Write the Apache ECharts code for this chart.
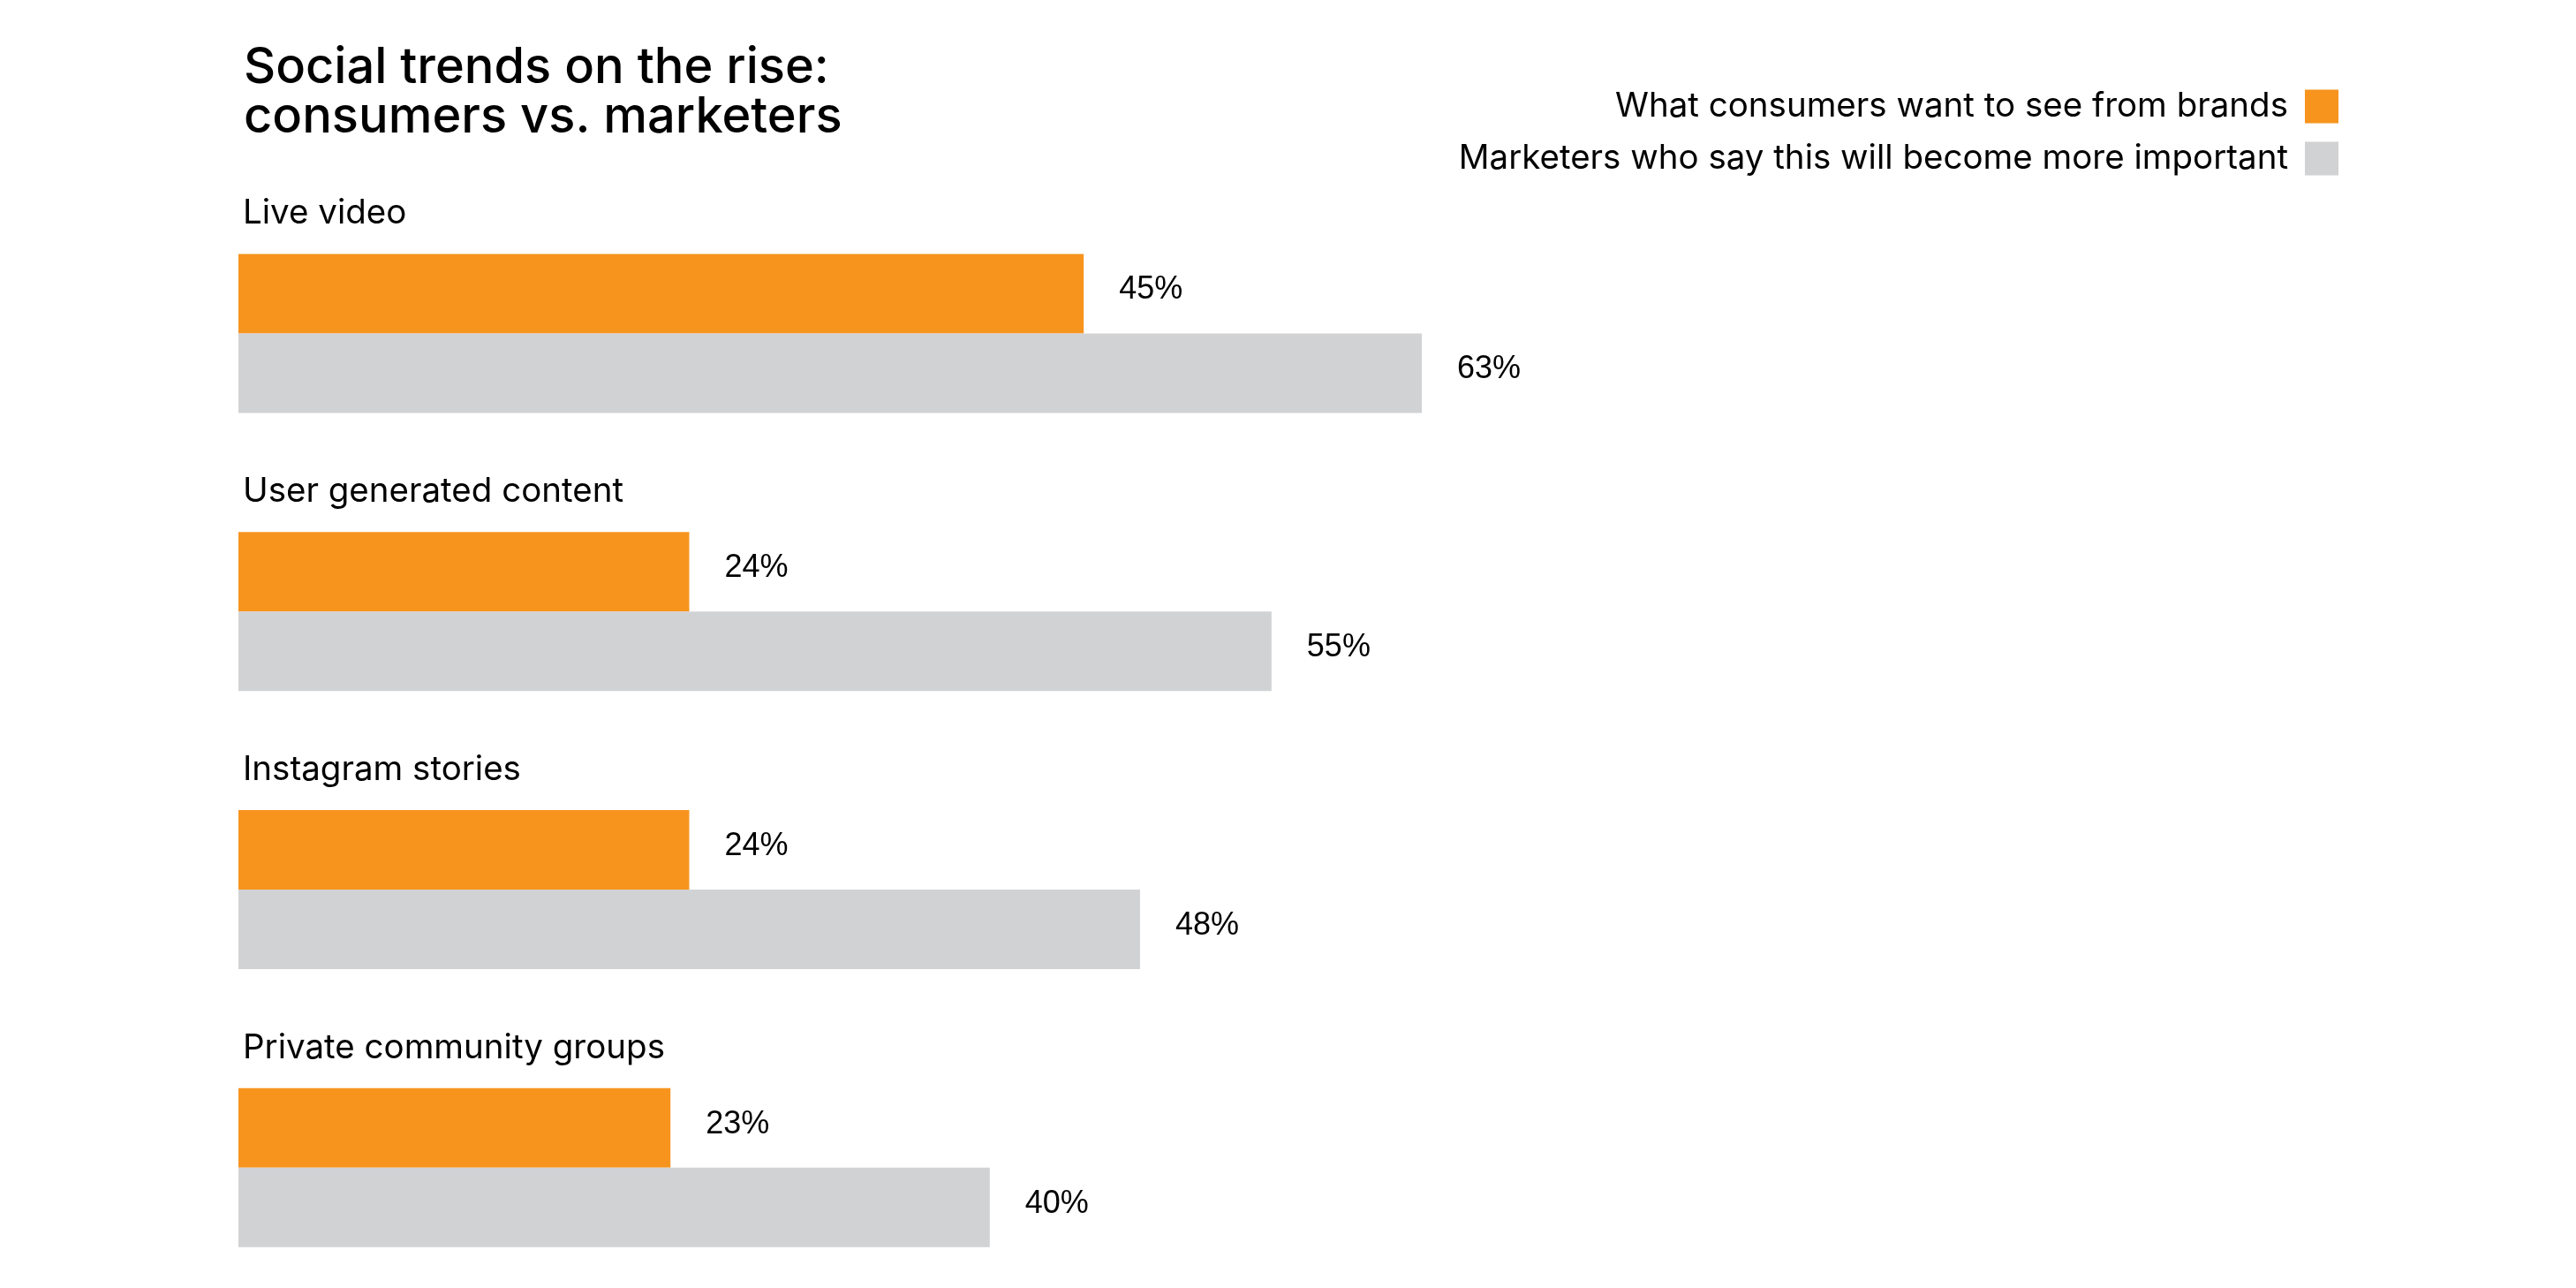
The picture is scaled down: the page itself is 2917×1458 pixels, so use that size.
<!DOCTYPE html>
<html>
<head>
<meta charset="utf-8">
<script src="https://cdn.jsdelivr.net/npm/echarts@6/dist/echarts.min.js"></script>
<style>
html,body{margin:0;padding:0;background:#fff;}
#chart{width:2917px;height:1458px;}
</style>
</head>
<body>
<div id="chart"></div>
<script>
const titleText = 'Social trends on the rise:\nconsumers vs. marketers';
const categories = ['Live video', 'User generated content', 'Instagram stories', 'Private community groups'];
const seriesNames = ['What consumers want to see from brands', 'Marketers who say this will become more important'];
const consumers = [45, 24, 24, 23];
const marketers = [63, 55, 48, 40];
const colors = ['#F7941E', '#D1D2D4'];

const FONT = 'Inter';
const chart = echarts.init(document.getElementById('chart'), null, {renderer: 'canvas'});
const labelStyle = {
  show: true,
  position: 'right',
  distance: 40,
  offset: [0, -4],
  formatter: '{c}%',
  fontFamily: 'Liberation Sans',
  fontSize: 36,
  color: '#000'
};
chart.setOption({
  backgroundColor: '#fff',
  animation: false,
  title: {
    text: titleText,
    left: 271,
    top: 44,
    textStyle: {fontFamily: FONT, fontSize: 56, fontWeight: 500, lineHeight: 56, color: '#000'}
  },
  legend: {
    orient: 'vertical',
    right: 264,
    top: 96,
    align: 'right',
    icon: 'rect',
    itemWidth: 38,
    itemHeight: 38,
    itemGap: 20,
    data: seriesNames,
    textStyle: {fontFamily: FONT, fontSize: 38.5, lineHeight: 38, color: '#000', padding: [0, 14, 0, 0]}
  },
  grid: {left: 270, width: 2127, top: 220, height: 1259, containLabel: false, outerBoundsMode: 'none'},
  xAxis: {
    type: 'value', min: 0, max: 100, show: false
  },
  yAxis: {
    type: 'category',
    data: categories,
    inverse: true,
    axisLine: {show: false},
    axisTick: {show: false},
    splitLine: {show: false},
    axisLabel: {
      inside: true,
      interval: 0,
      margin: 5,
      align: 'left',
      verticalAlign: 'bottom',
      padding: [0, 0, 116, 0],
      fontFamily: FONT,
      fontSize: 38.5,
      color: '#000'
    }
  },
  series: [
    {
      name: seriesNames[0], type: 'bar', data: consumers,
      barWidth: 90, barGap: '0%',
      itemStyle: {color: colors[0]},
      label: labelStyle
    },
    {
      name: seriesNames[1], type: 'bar', data: marketers,
      barWidth: 90, barGap: '0%',
      itemStyle: {color: colors[1]},
      label: labelStyle
    }
  ]
});
</script>
</body>
</html>
